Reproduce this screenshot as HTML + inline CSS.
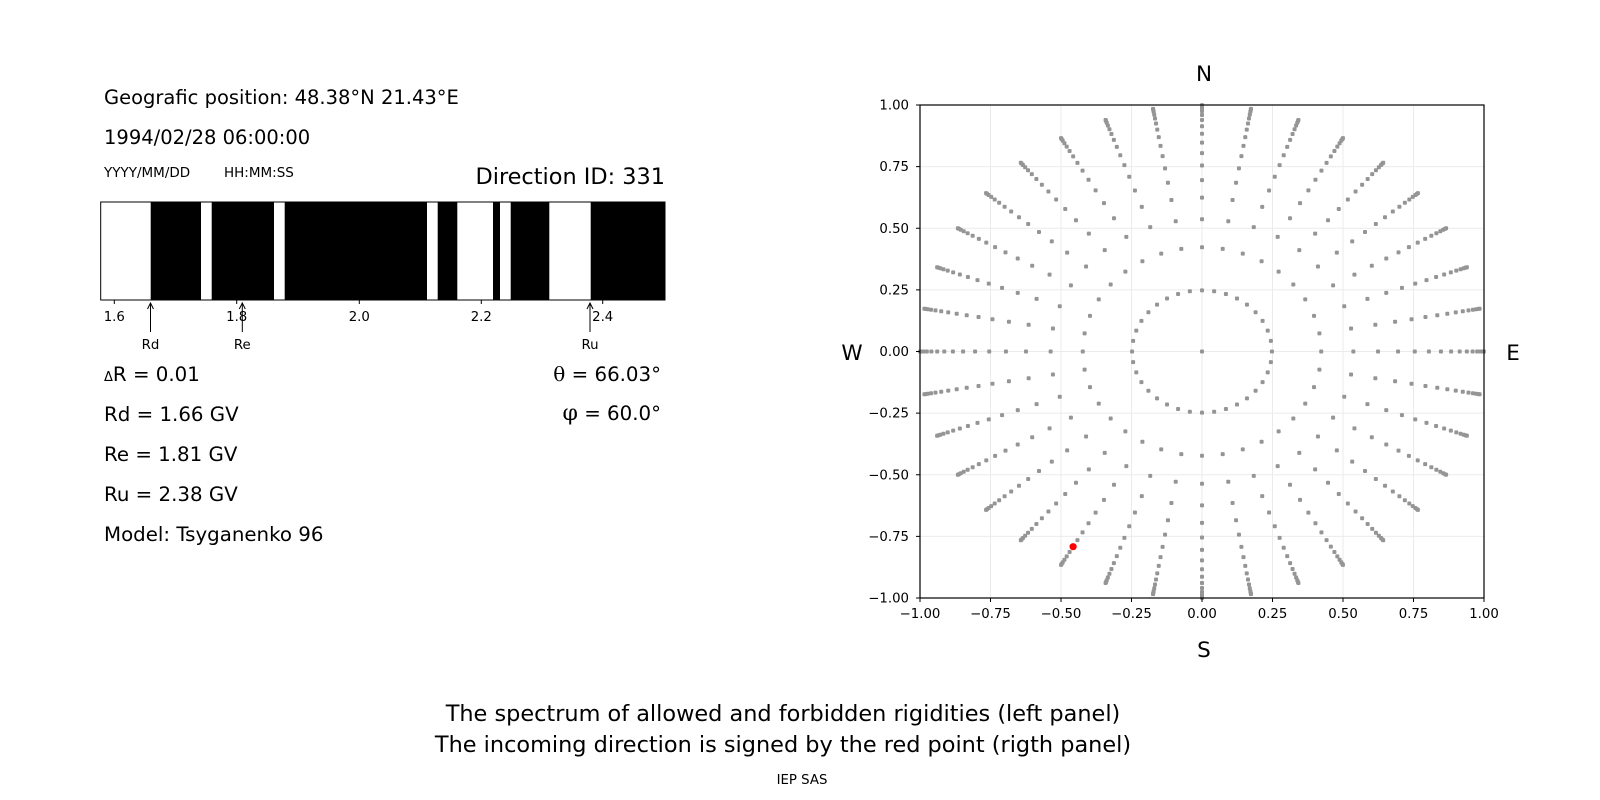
<!DOCTYPE html>
<html><head><meta charset="utf-8">
<style>
html,body{margin:0;padding:0;background:#fff;}
svg{display:block;font-family:"DejaVu Sans","Liberation Sans",sans-serif;}
</style></head>
<body>
<svg id="s" width="1600" height="800" viewBox="0 0 1600 800" xmlns="http://www.w3.org/2000/svg">
<rect width="1600" height="800" fill="#fff"/>
<text x="104" y="104" font-size="19.5">Geografic position: 48.38°N 21.43°E</text>
<text x="104" y="144" font-size="19.5">1994/02/28 06:00:00</text>
<text x="104" y="177" font-size="13.5">YYYY/MM/DD</text>
<text x="224" y="177" font-size="13.5">HH:MM:SS</text>
<text x="665" y="184" font-size="22.4" text-anchor="end">Direction ID: 331</text>
<g fill="#000">
<rect x="150.7" y="202" width="50.3" height="98"/>
<rect x="211.7" y="202" width="62.3" height="98"/>
<rect x="284.7" y="202" width="142.3" height="98"/>
<rect x="437.7" y="202" width="19.6" height="98"/>
<rect x="493" y="202" width="7" height="98"/>
<rect x="510.7" y="202" width="38.6" height="98"/>
<rect x="590.7" y="202" width="74.3" height="98"/>
</g>
<rect x="100.7" y="202" width="564.3" height="98" fill="none" stroke="#000" stroke-width="1"/>
<g stroke="#000" stroke-width="1">
<line x1="114.3" y1="300" x2="114.3" y2="304"/>
<line x1="236.7" y1="300" x2="236.7" y2="304"/>
<line x1="359.3" y1="300" x2="359.3" y2="304"/>
<line x1="481.3" y1="300" x2="481.3" y2="304"/>
<line x1="602.7" y1="300" x2="602.7" y2="304"/>
<line x1="150.5" y1="303" x2="150.5" y2="332"/>
<line x1="242.3" y1="303" x2="242.3" y2="332"/>
<line x1="590" y1="303" x2="590" y2="332"/>
<polyline fill="none" points="147.5,309 150.5,303 153.5,309"/>
<polyline fill="none" points="239.3,309 242.3,303 245.3,309"/>
<polyline fill="none" points="587,309 590,303 593,309"/>
</g>
<g font-size="13.3" text-anchor="middle">
<text x="114.3" y="321">1.6</text>
<text x="236.7" y="321">1.8</text>
<text x="359.3" y="321">2.0</text>
<text x="481.3" y="321">2.2</text>
<text x="602.7" y="321">2.4</text>
<text x="150.5" y="349">Rd</text>
<text x="242.3" y="349">Re</text>
<text x="590" y="349">Ru</text>
</g>
<g font-size="19.8">
<text x="104" y="381"><tspan font-size="13">Δ</tspan>R = 0.01</text>
<text x="104" y="421">Rd = 1.66 GV</text>
<text x="104" y="461">Re = 1.81 GV</text>
<text x="104" y="501">Ru = 2.38 GV</text>
<text x="104" y="541">Model: Tsyganenko 96</text>
<text x="661" y="381" text-anchor="end"><tspan font-family="DejaVu Serif,serif" font-size="20">θ</tspan> = 66.03°</text>
<text x="661" y="420" text-anchor="end"><tspan font-family="DejaVu Serif,serif" font-size="22">φ</tspan> = 60.0°</text>
</g>
<g id="grid" stroke="#ebebeb" stroke-width="1"></g>
<g id="dots" fill="#959595"></g>
<circle cx="1073.1" cy="546.7" r="3.6" fill="#ff0000"/>
<rect x="920" y="105" width="564" height="493" fill="none" stroke="#000" stroke-width="1.2"/>
<g id="ticks" stroke="#000" stroke-width="1"></g>
<g id="tl" font-size="13.3"></g>
<g font-size="21.5" text-anchor="middle">
<text x="1204" y="81">N</text>
<text x="1204" y="657">S</text>
<text x="852" y="360">W</text>
<text x="1513" y="360">E</text>
</g>
<g font-size="22.4" text-anchor="middle">
<text x="783" y="721">The spectrum of allowed and forbidden rigidities (left panel)</text>
<text x="783" y="752">The incoming direction is signed by the red point (rigth panel)</text>
</g>
<text x="802" y="784" font-size="13.3" text-anchor="middle">IEP SAS</text>
<script>
(function(){
var NS="http://www.w3.org/2000/svg";
function el(t,a,p){var e=document.createElementNS(NS,t);for(var k in a)e.setAttribute(k,a[k]);p.appendChild(e);return e;}
var cx=1202,cy=351.5,sx=282,sy=246.5;
var g=document.getElementById('grid'),d=document.getElementById('dots'),tk=document.getElementById('ticks'),tl=document.getElementById('tl');
var vals=[-1,-0.75,-0.5,-0.25,0,0.25,0.5,0.75,1];
var labs=["−1.00","−0.75","−0.50","−0.25","0.00","0.25","0.50","0.75","1.00"];
vals.forEach(function(v,i){
 var X=cx+v*sx,Y=cy-v*sy;
 el('line',{x1:X,y1:105,x2:X,y2:598},g);
 el('line',{x1:920,y1:Y,x2:1484,y2:Y},g);
 el('line',{x1:X,y1:598,x2:X,y2:602},tk);
 el('line',{x1:916,y1:Y,x2:920,y2:Y},tk);
 var t=el('text',{x:X,y:618,'text-anchor':'middle'},tl);t.textContent=labs[i];
 var t2=el('text',{x:909,y:Y+4.5,'text-anchor':'end'},tl);t2.textContent=labs[i];
});
function dot(x,y){el('rect',{x:cx+x*sx-2,y:cy-y*sy-2,width:4,height:4,rx:1},d);}
dot(0,0);
for(var k=0;k<16;k++){
 var c=1-(2*k+1)/32,r=Math.sqrt(1-c*c);
 for(var a=0;a<360;a+=10){var rad=a*Math.PI/180;dot(r*Math.sin(rad),r*Math.cos(rad));}
}
})();
</script>
</svg>
</body></html>
